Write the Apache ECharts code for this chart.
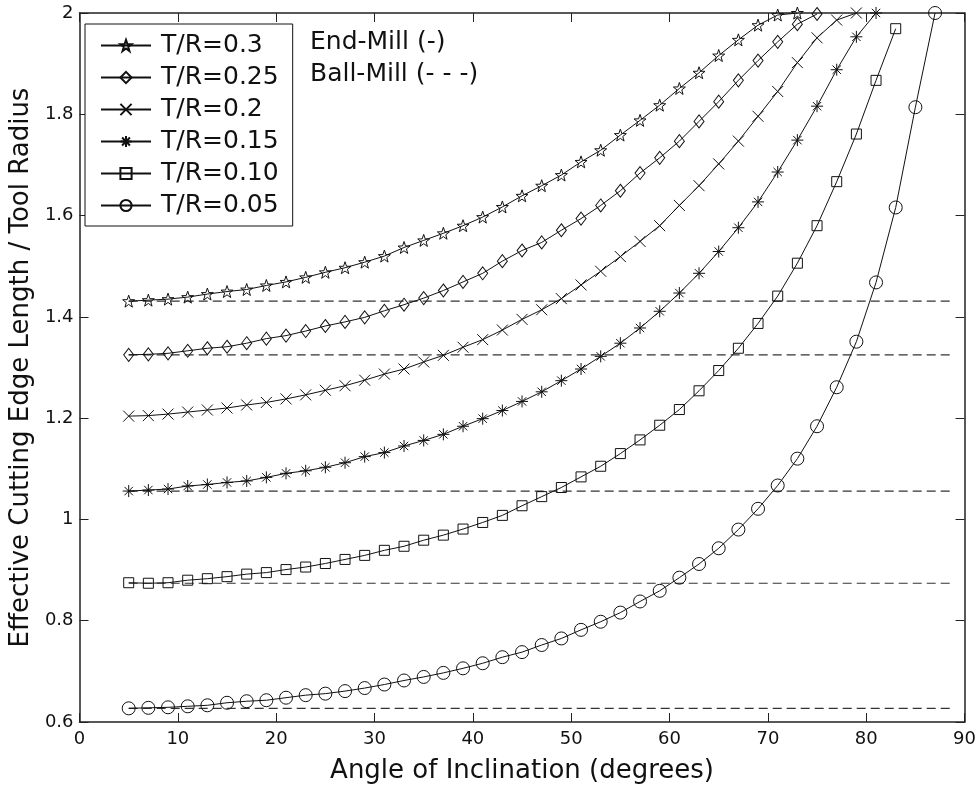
<!DOCTYPE html>
<html>
<head>
<meta charset="utf-8">
<title>Effective cutting edge length</title>
<script src="https://cdn.jsdelivr.net/npm/echarts@6/dist/echarts.min.js"></script>
<style>
  html, body { margin: 0; padding: 0; background: #fff; }
  #chart { width: 979px; height: 789px; }
</style>
</head>
<body>
<div id="chart"></div>
<script>
// angles (deg) where the markers sit, every 2 degrees
var angles = [5, 7, 9, 11, 13, 15, 17, 19, 21, 23, 25, 27, 29, 31, 33, 35, 37, 39, 41, 43,
  45, 47, 49, 51, 53, 55, 57, 59, 61, 63, 65, 67, 69, 71, 73, 75, 77, 79, 81, 83, 85, 87];

// end-mill curves
var tr030 = [1.431, 1.433, 1.435, 1.439, 1.445, 1.450, 1.454, 1.462, 1.469, 1.478,
  1.488, 1.497, 1.508, 1.520, 1.537, 1.551, 1.565, 1.580, 1.597, 1.617,
  1.639, 1.659, 1.680, 1.706, 1.729, 1.759, 1.788, 1.818, 1.851, 1.882,
  1.916, 1.947, 1.976, 1.996, 2.0];
var tr025 = [1.325, 1.326, 1.328, 1.333, 1.338, 1.341, 1.348, 1.357, 1.363, 1.372,
  1.382, 1.390, 1.399, 1.412, 1.424, 1.437, 1.452, 1.469, 1.486, 1.510,
  1.531, 1.547, 1.571, 1.594, 1.620, 1.649, 1.684, 1.714, 1.747, 1.786,
  1.825, 1.867, 1.906, 1.943, 1.978, 1.998];
var tr020 = [1.204, 1.205, 1.208, 1.212, 1.216, 1.220, 1.226, 1.231, 1.238, 1.246,
  1.255, 1.264, 1.275, 1.287, 1.297, 1.311, 1.324, 1.340, 1.355, 1.374,
  1.395, 1.414, 1.436, 1.463, 1.490, 1.519, 1.549, 1.580, 1.620, 1.659,
  1.702, 1.747, 1.796, 1.845, 1.902, 1.951, 1.986, 2.0];
var tr015 = [1.056, 1.058, 1.060, 1.066, 1.069, 1.073, 1.076, 1.083, 1.091, 1.096,
  1.103, 1.112, 1.124, 1.132, 1.145, 1.156, 1.168, 1.184, 1.199, 1.215,
  1.233, 1.252, 1.274, 1.297, 1.322, 1.348, 1.378, 1.411, 1.447, 1.486,
  1.529, 1.576, 1.627, 1.686, 1.749, 1.816, 1.888, 1.953, 2.0];
var tr010 = [0.875, 0.874, 0.875, 0.880, 0.883, 0.887, 0.892, 0.895, 0.901, 0.906,
  0.913, 0.921, 0.929, 0.939, 0.947, 0.959, 0.969, 0.981, 0.994, 1.008,
  1.027, 1.045, 1.063, 1.084, 1.105, 1.130, 1.157, 1.186, 1.217, 1.254,
  1.294, 1.338, 1.387, 1.441, 1.506, 1.580, 1.667, 1.761, 1.867, 1.969];
var tr005 = [0.627, 0.628, 0.629, 0.631, 0.633, 0.638, 0.641, 0.643, 0.648, 0.653,
  0.656, 0.661, 0.667, 0.674, 0.682, 0.689, 0.697, 0.706, 0.716, 0.728,
  0.738, 0.752, 0.765, 0.782, 0.798, 0.816, 0.838, 0.859, 0.885, 0.912,
  0.943, 0.980, 1.021, 1.067, 1.120, 1.184, 1.261, 1.351, 1.468, 1.616,
  1.814, 2.0];

// ball-mill levels (dashed, constant)
var ballLevels = [1.431, 1.325, 1.056, 0.874, 0.627];
var ballRange = [5, 89];

var names = ['T/R=0.3', 'T/R=0.25', 'T/R=0.2', 'T/R=0.15', 'T/R=0.10', 'T/R=0.05'];
var curves = [tr030, tr025, tr020, tr015, tr010, tr005];

var xTicks = { min: 0, max: 90, interval: 10 };
var yTicks = { min: 0.6, max: 2, interval: 0.2 };

var INK = '#111';
var FONT = 'DejaVu Sans';

var symbols = [
  'path://M10,0L12.35,6.76L19.51,6.91L13.8,11.24L15.88,18.09L10,14L4.12,18.09L6.2,11.24L0.49,6.91L7.65,6.76Z',
  'diamond',
  'path://M0,0L10,10M10,0L0,10',
  'path://M0,5L10,5M5,0L5,10M1.5,1.5L8.5,8.5M8.5,1.5L1.5,8.5',
  'rect',
  'circle'
];
var symbolSizes = [12, [10, 13], 11, 12, 10, 13];

function pairs(xs, ys) {
  var out = [];
  for (var i = 0; i < ys.length; i++) out.push([xs[i], ys[i]]);
  return out;
}

var series = [];
// dashed ball-mill lines first so markers sit on top
ballLevels.forEach(function (v, i) {
  series.push({
    name: 'ball' + i,
    type: 'line',
    silent: true,
    symbol: 'none',
    data: [[ballRange[0], v], [ballRange[1], v]],
    lineStyle: { color: '#333', width: 1.2, type: [9, 5] },
    z: 1
  });
});
curves.forEach(function (c, i) {
  series.push({
    name: names[i],
    type: 'line',
    data: pairs(angles, c),
    symbol: symbols[i],
    symbolSize: symbolSizes[i],
    showAllSymbol: true,
    lineStyle: { color: INK, width: 1 },
    itemStyle: { color: 'rgba(255,255,255,0)', borderColor: INK, borderWidth: 1 },
    emphasis: { disabled: true },
    z: 3
  });
});

var chart = echarts.init(document.getElementById('chart'));
chart.setOption({
  backgroundColor: '#fff',
  animation: false,
  grid: { left: 76, right: 12, top: 13, bottom: 62 },
  legend: {
    data: names,
    orient: 'vertical',
    left: 85,
    top: 24,
    width: 217,
    padding: [9, 14, 8, 15],
    itemWidth: 50,
    itemHeight: 14,
    itemGap: 7,
    backgroundColor: '#fff',
    borderColor: INK,
    borderWidth: 1,
    textStyle: { fontFamily: FONT, fontSize: 25, color: INK, lineHeight: 25, padding: [0, 0, 0, 5] }
  },
  graphic: [
    { type: 'text', left: 310, top: 30, style: { text: 'End-Mill (-)', font: '25px "DejaVu Sans"', fill: INK } },
    { type: 'text', left: 310, top: 62, style: { text: 'Ball-Mill (- - -)', font: '25px "DejaVu Sans"', fill: INK } }
  ],
  xAxis: [{
    type: 'value', min: xTicks.min, max: xTicks.max, interval: xTicks.interval,
    name: 'Angle of Inclination (degrees)', nameLocation: 'middle', nameGap: 36,
    nameTextStyle: { fontFamily: FONT, fontSize: 26, color: INK, verticalAlign: 'top' },
    axisLine: { onZero: false, lineStyle: { color: '#222', width: 1.5 } },
    axisTick: { inside: true, length: 9, lineStyle: { color: '#222' } },
    axisLabel: { fontFamily: FONT, fontSize: 18, color: INK, margin: 8 },
    splitLine: { show: false }
  }, {
    type: 'value', position: 'top', min: xTicks.min, max: xTicks.max, interval: xTicks.interval,
    axisLine: { onZero: false, lineStyle: { color: '#222', width: 1.5 } },
    axisTick: { inside: true, length: 9, lineStyle: { color: '#222' } },
    axisLabel: { show: false },
    splitLine: { show: false }
  }],
  yAxis: [{
    type: 'value', min: yTicks.min, max: yTicks.max, interval: yTicks.interval,
    name: 'Effective Cutting Edge Length / Tool Radius', nameLocation: 'middle', nameGap: 40,
    nameTextStyle: { fontFamily: FONT, fontSize: 26, color: INK },
    axisLine: { show: true, onZero: false, lineStyle: { color: '#222', width: 1.5 } },
    axisTick: { show: true, inside: true, length: 9, lineStyle: { color: '#222' } },
    axisLabel: { fontFamily: FONT, fontSize: 18, color: INK, margin: 6 },
    splitLine: { show: false }
  }, {
    type: 'value', position: 'right', min: yTicks.min, max: yTicks.max, interval: yTicks.interval,
    axisLine: { show: true, onZero: false, lineStyle: { color: '#222', width: 1.5 } },
    axisTick: { show: true, inside: true, length: 9, lineStyle: { color: '#222' } },
    axisLabel: { show: false },
    splitLine: { show: false }
  }],
  series: series
});
</script>
</body>
</html>
